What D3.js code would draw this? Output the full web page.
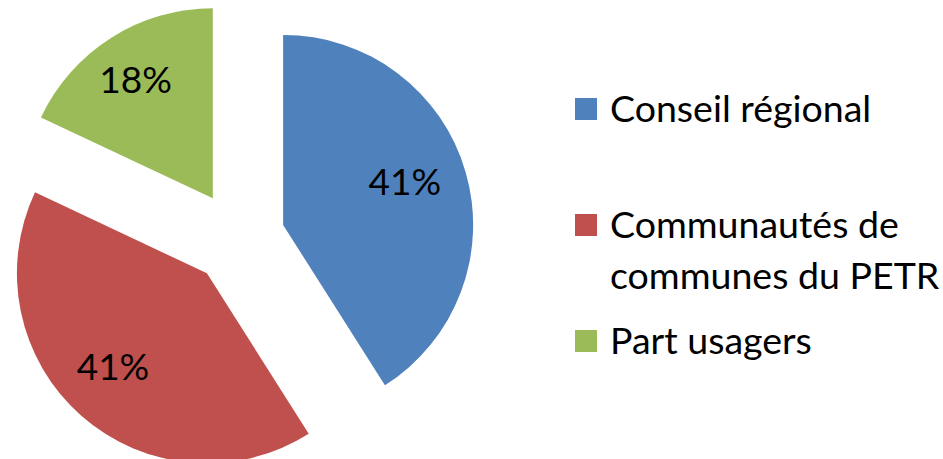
<!DOCTYPE html>
<html>
<head>
<meta charset="utf-8">
<script src="https://cdn.jsdelivr.net/npm/d3@7"></script>
<style>
  body { margin: 0; background: #fff; }
  text { font-family: Lato, "Open Sans", sans-serif; fill: #000; }
</style>
</head>
<body>
<svg width="943" height="459"></svg>
<script>
// data
var categories = ["Conseil régional", "Communautés de communes du PETR", "Part usagers"];
var legendLines = [["Conseil régional"], ["Communautés de", "communes du PETR"], ["Part usagers"]];
var values = [41, 41, 18];
var colors = ["#4F81BD", "#C0504D", "#9BBB59"];

var svg = d3.select("svg");

var cx = 238, cy = 238, r = 190, explode = 47;

var pie = d3.pie().sort(null).startAngle(0).endAngle(2 * Math.PI);
var arc = d3.arc().innerRadius(0).outerRadius(r);
var labelArc = d3.arc().innerRadius(r * 0.7).outerRadius(r * 0.7);

var total = d3.sum(values);
var slices = pie(values);

var g = svg.append("g").attr("transform", "translate(" + cx + "," + cy + ")");

var slice = g.selectAll("g.slice")
    .data(slices)
  .enter().append("g")
    .attr("class", "slice")
    .attr("transform", function(d) {
      var a = (d.startAngle + d.endAngle) / 2;
      return "translate(" + (explode * Math.sin(a)) + "," + (-explode * Math.cos(a)) + ")";
    });

slice.append("path")
    .attr("d", arc)
    .style("fill", function(d, i) { return colors[i]; });

slice.append("text")
    .attr("transform", function(d) { return "translate(" + labelArc.centroid(d) + ")"; })
    .attr("text-anchor", "middle")
    .attr("dx", -6)
    .attr("dy", "0.2em")
    .style("font-size", "37px")
    .text(function(d) { return Math.round(d.value / total * 100) + "%"; });

// legend
var legend = svg.append("g").attr("transform", "translate(575,122)");

var item = legend.selectAll("g.item")
    .data(categories)
  .enter().append("g")
    .attr("class", "item")
    .attr("transform", function(d, i) { return "translate(0," + (i * 116) + ")"; });

item.append("rect")
    .attr("x", 0)
    .attr("y", -24)
    .attr("width", 22)
    .attr("height", 22)
    .style("fill", function(d, i) { return colors[i]; });

item.append("text")
    .attr("x", 35)
    .style("font-size", "37.5px")
    .selectAll("tspan")
    .data(function(d, i) { return legendLines[i]; })
  .enter().append("tspan")
    .attr("x", 35)
    .attr("y", function(d, j) { return j * 51; })
    .text(function(d) { return d; });
</script>
</body>
</html>
